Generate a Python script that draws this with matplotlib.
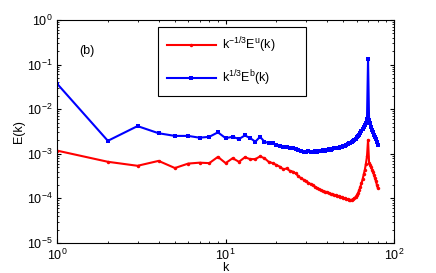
import numpy as np
import matplotlib
matplotlib.use("Agg")
import matplotlib.pyplot as plt

plt.rcParams['font.family'] = ['Liberation Sans', 'DejaVu Sans']
plt.rcParams['mathtext.default'] = 'regular'

# wavenumbers
k = np.arange(1, 81)

# log10 of k^{-1/3} E^u(k)
log_eu = [-2.93, -3.18, -3.27, -3.16, -3.32, -3.22, -3.20, -3.21, -3.07, -3.21,
          -3.10, -3.18, -3.08, -3.12, -3.12, -3.06, -3.10, -3.18, -3.21, -3.25,
          -3.29, -3.35, -3.33, -3.38, -3.40, -3.44, -3.50, -3.55, -3.58, -3.62,
          -3.65, -3.68, -3.71, -3.74, -3.77, -3.80, -3.82, -3.84, -3.85, -3.86,
          -3.88, -3.90, -3.91, -3.92, -3.93, -3.94, -3.95, -3.96, -3.98, -3.99,
          -4.00, -4.01, -4.02, -4.03, -4.04, -4.03, -4.02, -4.00, -3.97, -3.93,
          -3.88, -3.82, -3.74, -3.66, -3.57, -3.46, -3.36, -3.22, -3.06, -2.69,
          -3.20, -3.25, -3.30, -3.36, -3.42, -3.48, -3.55, -3.62, -3.70, -3.77]

# log10 of k^{1/3} E^b(k)
log_eb = [-1.43, -2.71, -2.38, -2.54, -2.60, -2.60, -2.64, -2.62, -2.52, -2.65,
          -2.62, -2.67, -2.59, -2.65, -2.73, -2.62, -2.73, -2.76, -2.77, -2.80,
          -2.83, -2.85, -2.84, -2.88, -2.87, -2.90, -2.91, -2.93, -2.95, -2.97,
          -2.94, -2.97, -2.96, -2.94, -2.96, -2.94, -2.93, -2.92, -2.93, -2.91,
          -2.90, -2.91, -2.89, -2.88, -2.88, -2.87, -2.86, -2.85, -2.84, -2.83,
          -2.82, -2.80, -2.79, -2.77, -2.76, -2.74, -2.72, -2.69, -2.66, -2.63,
          -2.60, -2.57, -2.54, -2.50, -2.45, -2.40, -2.36, -2.30, -2.22, -0.88,
          -2.25, -2.32, -2.40, -2.47, -2.52, -2.58, -2.63, -2.68, -2.74, -2.80]

eu = 10.0 ** np.array(log_eu)
eb = 10.0 ** np.array(log_eb)

fig = plt.figure(figsize=(4.36, 2.73), dpi=100)
ax = fig.add_axes([0.131, 0.110, 0.773, 0.817])

ax.loglog(k, eu, '-o', color='red', lw=1.5, ms=2.5, mew=0,
          label=r'k$^{-1/3}$E$^{u}$(k)       ')
ax.loglog(k, eb, '-s', color='blue', lw=1.5, ms=2.5, mew=0,
          label=r'k$^{1/3}$E$^{b}$(k)')

ax.set_xlim(1, 100)
ax.set_ylim(1e-5, 1)
ax.set_xlabel('k', fontsize=9, labelpad=-1)
ax.set_ylabel('E(k)', fontsize=9, labelpad=1)
ax.tick_params(which='both', direction='in', top=True, right=True, labelsize=9)
ax.tick_params(which='major', length=3)
ax.tick_params(which='minor', length=1.5)

ax.text(1.5, 0.2, '(b)', fontsize=9, ha='center', va='center')

leg = ax.legend(loc='upper left', bbox_to_anchor=(0.30, 0.97), fontsize=9,
                handlelength=3.9, handletextpad=0.5, borderpad=0.7,
                labelspacing=1.05, borderaxespad=0,
                fancybox=False, framealpha=1, edgecolor='black')
leg.get_frame().set_linewidth(0.8)

fig.savefig('out.png', dpi=100)
